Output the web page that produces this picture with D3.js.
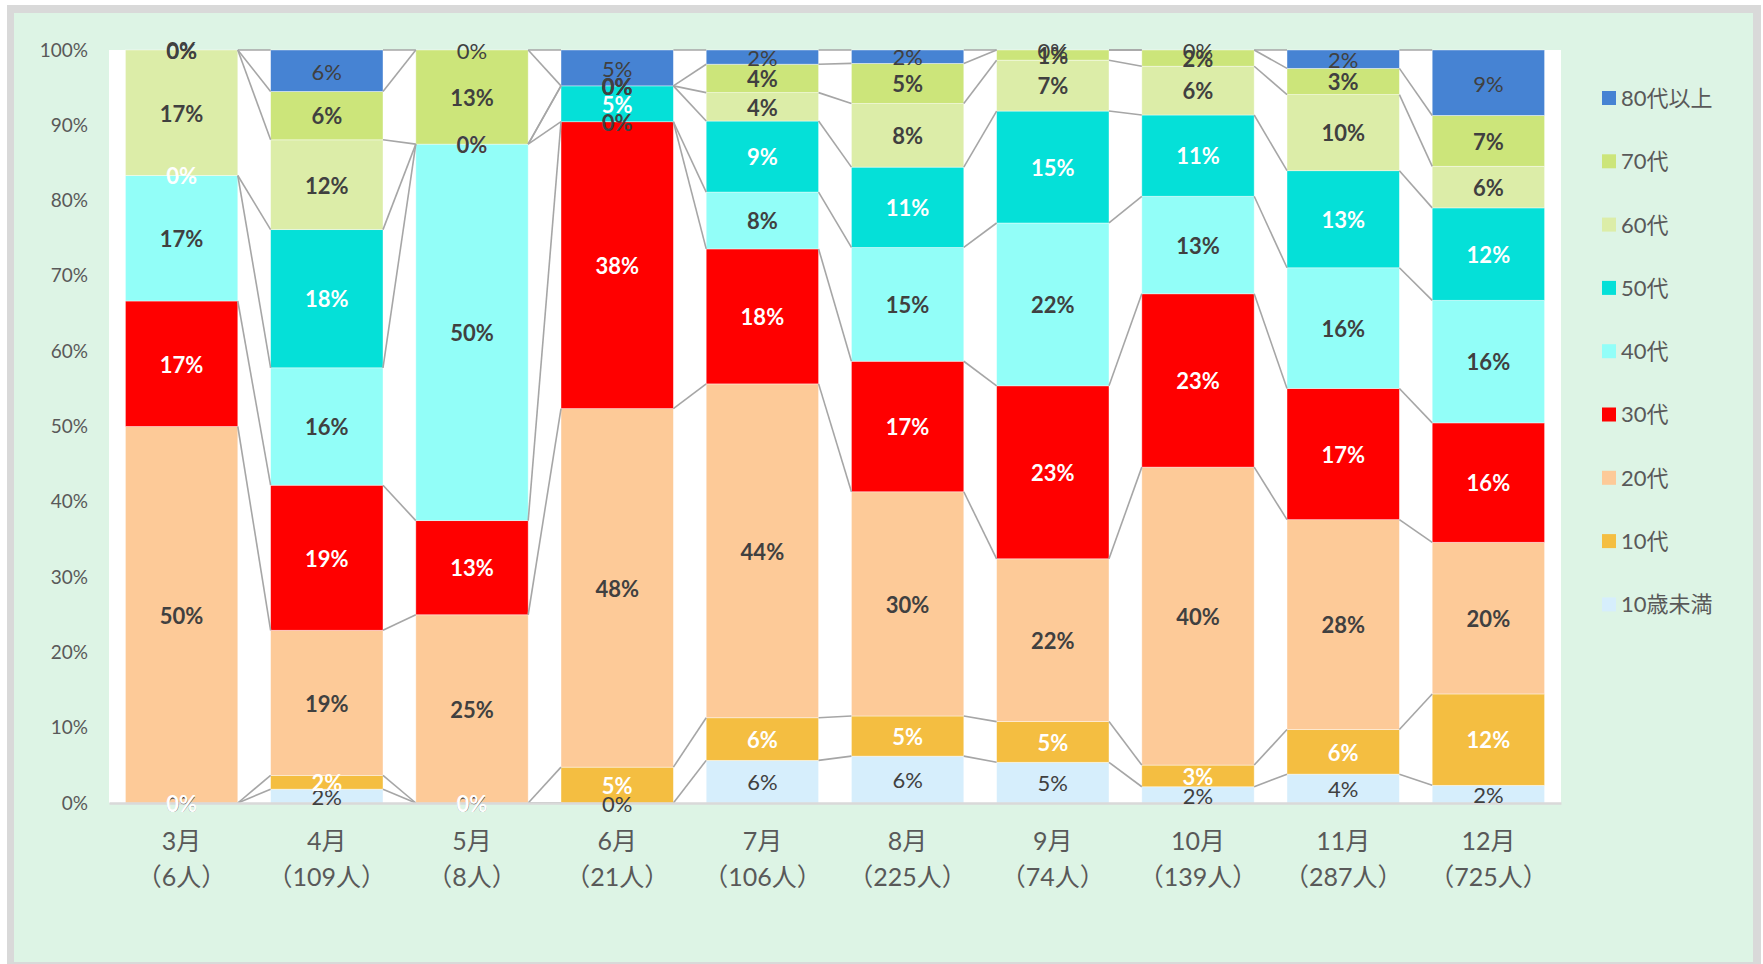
<!DOCTYPE html>
<html>
<head>
<meta charset="utf-8">
<script src="https://cdn.jsdelivr.net/npm/d3@7"></script>
<style>
	body { margin: 0; background: #fff; }
	text { font-family: "Lato", "Noto Sans CJK JP", sans-serif; }
</style>
</head>
<body>
<div id="chart"></div>
<script>
// months on the x axis
const months = ['3月', '4月', '5月', '6月', '7月', '8月', '9月', '10月', '11月', '12月']

// age groups, bottom of the stack first
const ageGroups = ['10歳未満', '10代', '20代', '30代', '40代', '50代', '60代', '70代', '80代以上']
const groupColors = ['#d6eefc', '#f4be41', '#fdca98', '#ff0000', '#92fef8', '#05e0d8', '#dceda8', '#cce57a', '#4683d3']

// people per age group, one value per month
const under10 = [0, 2, 0, 0, 6, 14, 4, 3, 11, 17]
const teens = [0, 2, 0, 1, 6, 12, 4, 4, 17, 88]
const twenties = [3, 21, 2, 10, 47, 67, 16, 55, 80, 146]
const thirties = [1, 21, 1, 8, 19, 39, 17, 32, 50, 115]
const forties = [1, 17, 4, 0, 8, 34, 16, 18, 46, 118]
const fifties = [0, 20, 0, 1, 10, 24, 11, 15, 37, 89]
const sixties = [1, 13, 0, 0, 4, 19, 5, 9, 29, 40]
const seventies = [0, 7, 1, 0, 4, 12, 1, 3, 10, 49]
const eightyPlus = [0, 6, 0, 1, 2, 4, 0, 0, 7, 63]

const seriesValues = [under10, teens, twenties, thirties, forties, fifties, sixties, seventies, eightyPlus]

// label style per group: white on the strong colours, bold on most
const whiteLabel = ['10代', '30代', '50代']
const regularLabel = ['10歳未満', '80代以上']

const w = 1763, h = 964

// rows for d3.stack
let table = months.map((m, i) => {
	let row = { month: m }
	ageGroups.forEach((g, j) => { row[g] = seriesValues[j][i] })
	row.total = d3.sum(seriesValues, s => s[i])
	return row
})

let stacked = d3.stack()
	.keys(ageGroups)
	.offset(d3.stackOffsetExpand)(table)

let svg = d3.select('#chart').append('svg')
	.attr('width', w)
	.attr('height', h)

//frame + green background
svg.append('rect')
	.attr('x', 7).attr('y', 5)
	.attr('width', 1754).attr('height', 962)
	.attr('fill', '#d9d9d9')
svg.append('rect')
	.attr('x', 14).attr('y', 13)
	.attr('width', 1739).attr('height', 949)
	.attr('fill', '#ddf4e5')

const plotLeft = 109, plotRight = 1561, plotTop = 50, plotBottom = 803

let x = d3.scaleBand()
	.domain(months)
	.range([plotLeft, plotRight])
	.paddingInner(0.226)
	.paddingOuter(0.113)

let y = d3.scaleLinear()
	.domain([0, 1])
	.range([plotBottom, plotTop])

let color = d3.scaleOrdinal()
	.domain(ageGroups)
	.range(groupColors)

//white plot area
svg.append('rect')
	.attr('x', plotLeft).attr('y', plotTop)
	.attr('width', plotRight - plotLeft).attr('height', plotBottom - plotTop)
	.attr('fill', '#fff')

//y axis, labels only
let yAxis = svg.append('g')
	.attr('transform', `translate(${plotLeft},0)`)
	.call(d3.axisLeft(y).ticks(10).tickFormat(d3.format('.0%')).tickSize(0).tickPadding(21))
yAxis.select('.domain').remove()
yAxis.selectAll('text')
	.attr('font-size', 19)
	.attr('fill', '#595959')
	.style('font-family', 'Lato, sans-serif')

//bars
let layers = svg.append('g').selectAll('.layer')
	.data(stacked)
	.join('g')
	.attr('class', 'layer')
	.attr('fill', d => color(d.key))

layers.selectAll('rect')
	.data(d => d)
	.join('rect')
	.attr('x', d => x(d.data.month))
	.attr('y', d => y(d[1]))
	.attr('width', x.bandwidth())
	.attr('height', d => y(d[0]) - y(d[1]))
	.attr('stroke', '#fff')
	.attr('stroke-opacity', 0.5)
	.attr('stroke-width', 0.8)

//series lines between neighbouring bars, at the top of each segment
let seriesLines = svg.append('g')
stacked.forEach(layer => {
	for (let i = 0; i < layer.length - 1; i++) {
		seriesLines.append('line')
			.attr('x1', x(months[i]) + x.bandwidth())
			.attr('y1', y(layer[i][1]))
			.attr('x2', x(months[i + 1]))
			.attr('y2', y(layer[i + 1][1]))
			.attr('stroke', '#a6a6a6')
			.attr('stroke-width', 1.6)
	}
})

//x axis baseline + two line labels
let xAxis = svg.append('g')
	.attr('transform', `translate(0,${plotBottom})`)
	.call(d3.axisBottom(x).tickSize(0).tickSizeOuter(0))
xAxis.select('.domain')
	.attr('stroke', '#d9d9d9')
	.attr('stroke-width', 2.5)
xAxis.selectAll('.tick text').remove()
xAxis.selectAll('.tick').each(function(m, i) {
	let t = d3.select(this).append('text')
		.attr('fill', '#595959')
		.attr('font-size', 25)
		.attr('text-anchor', 'middle')
	t.append('tspan').attr('x', 0).attr('y', 47).text(m)
	t.append('tspan').attr('x', 0).attr('y', 83).text(`（${table[i].total}人）`)
})

//percentage labels inside segments
let labels = svg.append('g')
stacked.forEach(layer => {
	let g = layer.key
	labels.selectAll(null)
		.data(layer)
		.join('text')
		.attr('x', d => x(d.data.month) + x.bandwidth() / 2)
		.attr('y', d => y((d[0] + d[1]) / 2))
		.attr('dy', '0.4em')
		.attr('text-anchor', 'middle')
		.attr('font-size', 22)
		.attr('font-weight', regularLabel.includes(g) ? 400 : 700)
		.attr('fill', whiteLabel.includes(g) ? '#fff' : '#404040')
		.text(d => Math.round((d[1] - d[0]) * 100) + '%')
})

//legend, top group first
let legend = svg.append('g')
	.attr('transform', 'translate(1602,98)')
let items = legend.selectAll('g')
	.data(ageGroups.slice().reverse())
	.join('g')
	.attr('transform', (d, i) => `translate(0,${i * 63.3})`)
items.append('rect')
	.attr('x', 0).attr('y', -7)
	.attr('width', 14).attr('height', 14)
	.attr('fill', d => color(d))
items.append('text')
	.attr('x', 19)
	.attr('dy', '0.36em')
	.attr('font-size', 22)
	.attr('fill', '#595959')
	.text(d => d)
</script>
</body>
</html>
